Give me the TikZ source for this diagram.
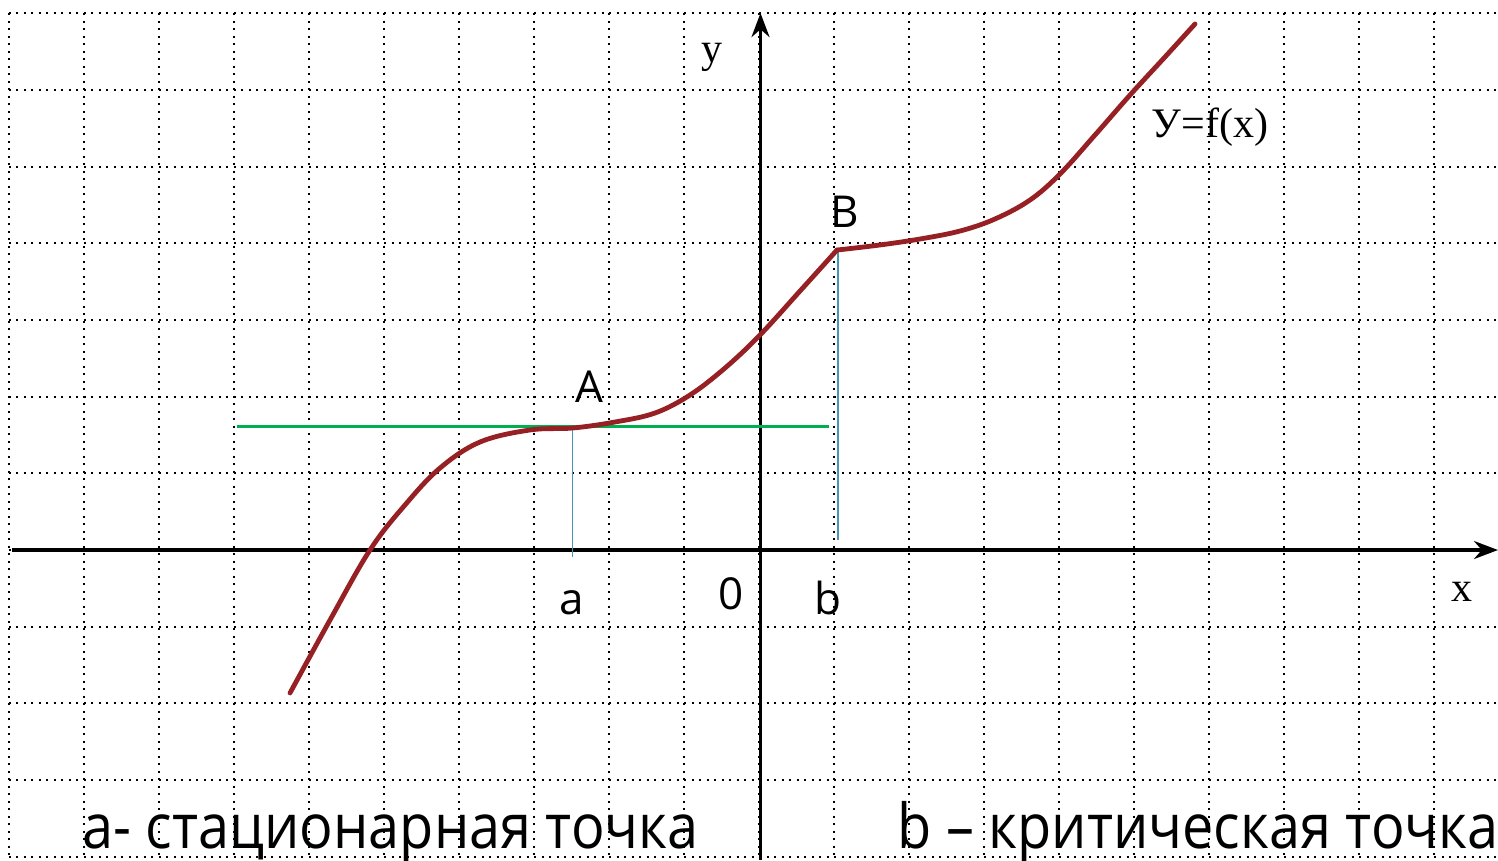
\documentclass[tikz,border=0pt]{standalone}
\usepackage{fontspec}
\setmainfont{Liberation Serif}
\newfontfamily\labelfont{Open Sans}
\newfontfamily\captionfont[FakeStretch=0.9]{Open Sans}
\usetikzlibrary{arrows.meta}

\definecolor{curvered}{RGB}{150,32,35}
\definecolor{tangentgreen}{RGB}{0,176,80}
\definecolor{dropblue}{RGB}{70,150,180}

\begin{document}
\begin{tikzpicture}[x=37.5pt, y=38.35pt,
    gridline/.style={line width=1pt, dash pattern=on 1pt off 2.75pt},
    axis/.style={line width=1.7pt, -{Stealth[length=12pt, width=9pt]}},
    graph/.style={line width=2.4pt, draw=curvered, line cap=round, line join=round},
    drop/.style={line width=0.8pt, draw=dropblue},
    serif/.style={font=\fontsize{21}{21}\selectfont, inner sep=0pt},
    point/.style={font=\labelfont\fontsize{22}{22}\selectfont, inner sep=0pt},
    caption/.style={font=\captionfont\fontsize{31}{31}\selectfont, anchor=base west, inner sep=0pt}
]
\useasboundingbox (-10.12,-4.042) rectangle (9.853,7.171);

% grid
\foreach \i in {-10,...,9}
  \draw[gridline] (\i,7) -- (\i,-4.042);
\foreach \j in {-4,...,7}
  \draw[gridline] (-10,\j) -- (9.853,\j);

% axes
\coordinate (xstart) at (-9.96,0);
\coordinate (xend) at (9.853,0);
\coordinate (ystart) at (0.02,-4.042);
\coordinate (yend) at (0.02,7.0);
\draw[axis] (xstart) -- (xend);
\draw[axis] (ystart) -- (yend);

% key points
\coordinate (A) at (-2.487,1.59);
\coordinate (B) at (1.04,3.911);
\coordinate (afoot) at (-2.487,-0.09);
\coordinate (Bfoot) at (1.057,0.13);
\coordinate (Btop) at (1.057,3.885);
\coordinate (tanL) at (-6.964,1.61);
\coordinate (tanR) at (0.927,1.61);

% tangent and drop lines
\draw[line width=1.5pt, tangentgreen] (tanL) -- (tanR);
\draw[drop] (A) -- (afoot);
\draw[drop] (Btop) -- (Bfoot);

% the curve y=f(x)
\draw[graph] plot[smooth, tension=0.6] coordinates {
  (-6.253,-1.864) (-5.72,-0.913) (-5.187,0) (-4.72,0.587) (-4.253,1.069)
  (-3.72,1.408) (-3.053,1.565) (-2.48,1.591) (-1.92,1.669) (-1.387,1.786)
  (-0.92,2.021) (-0.453,2.373) (0.013,2.803) (0.547,3.377) (1.04,3.911)};
\draw[graph] plot[smooth, tension=0.6] coordinates {
  (1.04,3.911) (1.613,3.977) (2.147,4.055) (2.68,4.159) (3.147,4.316)
  (3.613,4.563) (4.013,4.902) (4.48,5.411) (4.947,5.932) (5.413,6.428)
  (5.813,6.858)};

% labels
\node[serif] (ylab) at (-0.627,6.428) {y};
\node[serif] (xlab) at (9.373,-0.548) {x};
\node[serif] (flab) at (6.013,5.515) {У=f(x)};
\node[point] (Alab) at (-2.267,2.125) {A};
\node[point] (Blab) at (1.147,4.407) {B};
\node[point] (alab) at (-2.493,-0.691) {a};
\node[point] (olab) at (-0.373,-0.574) {0};
\node[point] (blab) at (0.92,-0.626) {b};

% captions
\node[caption] (stat) at (-9.027,-3.885) {а- стационарная точка};
\node[caption] (crit) at (1.84,-3.885) {b – критическая точка};
\end{tikzpicture}
\end{document}
